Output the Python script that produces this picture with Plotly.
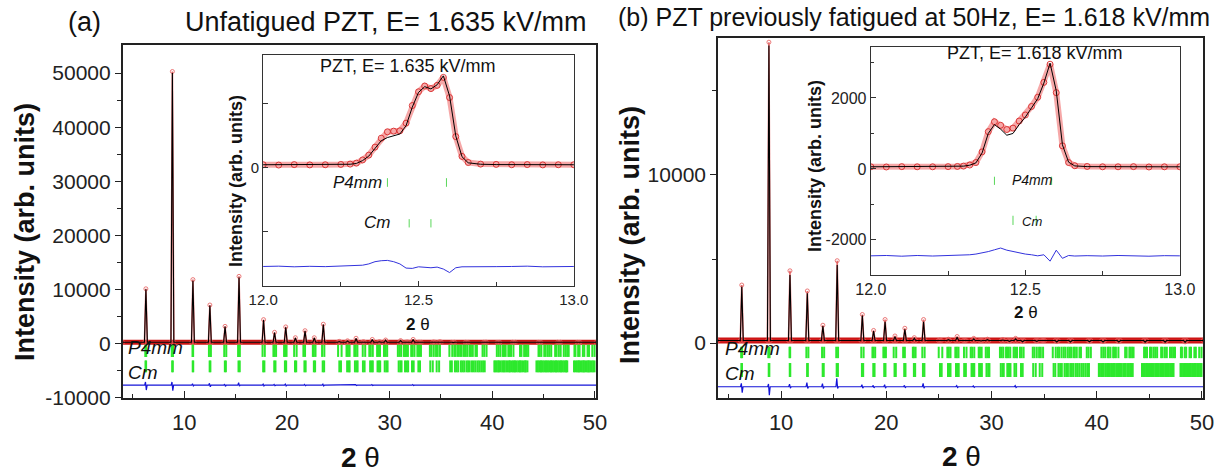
import plotly.graph_objects as go

W, H = 1220, 472
FONT = "Liberation Sans, Arial, Helvetica, sans-serif"

# ---------------- data ----------------
# Main patterns: peak positions (2θ, degrees) and peak-top intensities
PEAK_POS = [6.26, 8.84, 10.84, 12.49, 13.97, 15.33, 17.72, 18.79, 19.88, 20.82, 21.76, 22.66, 23.54,
            25.09, 25.90, 26.73, 27.45, 28.31, 29.00, 29.61, 31.07, 31.70, 32.29, 32.95, 34.30, 34.90,
            36.20, 37.50, 39.30, 40.60, 42.10, 44.60, 46.50, 48.40]
CALC_A = [10000, 50000, 11600, 7000, 3100, 12200, 4300, 2000, 3000, 1000, 2300, 1000, 3500,
          350, 450, 900, 300, 700, 300, 600, 500, 250, 700, 200, 250, 300,
          150, 150, 200, 150, 150, 120, 120, 100]
OBS_A = [10100, 50300, 11800, 7100, 3150, 12400, 4400, 2050, 3050, 1050, 2350, 1050, 3550,
         380, 480, 950, 320, 730, 320, 630, 520, 270, 730, 220, 270, 320,
         170, 170, 220, 170, 170, 140, 140, 120]
CALC_B = [3350, 17700, 4050, 2960, 1010, 4640, 1630, 710, 1270, 380, 810, 280, 1270,
          150, 200, 350, 120, 250, 120, 200, 180, 100, 250, 80, 100, 120,
          60, 60, 80, 60, 60, 50, 50, 40]
OBS_B = [3450, 17900, 4300, 3100, 1060, 4900, 1700, 750, 1400, 420, 880, 320, 1400,
         180, 230, 390, 150, 280, 150, 230, 210, 130, 280, 110, 130, 150,
         90, 90, 110, 90, 90, 80, 80, 70]
BG_A = 200
BG_B = 150

# Difference curves: spike positions, upward and downward excursions, offset
DIFF_POS = [6.26, 8.84, 10.84, 12.49, 13.97, 15.33, 17.72, 18.79, 19.88, 21.76, 23.54, 26.73, 28.31, 32.29]
DIFF_UP_A = [600, 600, 250, 350, 200, 450, 200, 150, 200, 150, 200, 100, 100, 100]
DIFF_DN_A = [900, 1000, 150, 300, 200, 150, 150, 100, 150, 100, 150, 80, 80, 80]
DIFF_OFF_A = -7730
DIFF_UP_B = [200, 160, 150, 250, 180, 500, 120, 80, 120, 80, 200, 60, 50, 60]
DIFF_DN_B = [360, 500, 80, 100, 100, 100, 80, 60, 80, 60, 80, 50, 40, 50]
DIFF_OFF_B = -2600

# Bragg reflection positions (2θ) for the two phases
P4MM_REFL = [6.20, 6.29, 8.78, 8.90, 10.80, 10.86, 12.40, 12.59, 13.89, 14.09, 15.24, 15.41,
             17.62, 17.84, 18.68, 18.78, 18.94, 19.72, 19.82, 19.96, 20.70, 20.94, 21.60, 21.76,
             22.52, 22.62, 22.78, 23.42, 23.64, 24.98, 25.32, 25.80, 25.94, 26.10, 26.56, 26.70, 26.86,
             27.38, 27.62, 28.02, 28.16, 28.36, 28.78, 28.90, 29.06, 29.45, 29.60, 29.76,
             30.80, 30.96, 31.12, 31.38, 31.50, 31.62, 31.78, 32.10, 32.24, 32.42, 32.70, 32.86, 33.05,
             33.92, 34.08, 34.30, 34.52, 34.68, 34.90,
             35.82, 36.10, 36.30, 36.44, 36.66, 36.86, 37.02, 37.24, 37.40, 37.56, 37.78, 37.92, 38.10,
             38.36, 38.50, 39.05, 39.22, 39.44,
             40.44, 40.62, 40.80, 41.04, 41.14, 41.30, 41.56, 41.66, 41.82, 42.06,
             42.70, 42.84, 43.10, 43.20, 43.36, 43.50,
             44.50, 44.62, 44.78, 45.06, 45.20, 45.40, 45.56, 45.74,
             46.12, 46.26, 46.48, 46.66, 46.96, 47.14, 47.30, 47.44,
             48.00, 48.10, 48.36, 48.50, 48.82, 48.96, 49.28, 49.42, 49.74, 49.96]
CM_REFL = [6.22, 6.28, 8.82, 8.88, 10.82, 10.87, 12.47, 12.54, 13.95, 14.05, 15.28, 15.40,
           17.68, 17.80, 18.76, 18.88, 19.80, 19.92, 20.78, 20.90, 21.70, 21.82, 22.62, 22.74,
           23.48, 23.62, 25.10, 25.26, 25.86, 26.02, 26.10, 26.62, 26.78, 26.88, 27.40, 27.56,
           28.10, 28.24, 28.36, 28.82, 28.96, 29.08, 29.52, 29.68, 29.80,
           30.88, 31.04, 31.16, 31.50, 31.66, 31.80, 32.18, 32.34, 32.80, 32.96,
           33.96, 34.20, 34.58, 34.82,
           35.90, 36.06, 36.36, 36.52, 36.68, 36.94, 37.10, 37.26, 37.48, 37.64, 37.80,
           38.02, 38.20, 38.38, 38.58, 38.74, 38.92, 39.10, 39.26,
           40.20, 40.30, 40.44, 40.58, 40.66, 40.82, 40.98, 41.10, 41.20, 41.36, 41.50, 41.64,
           41.72, 41.88, 42.02, 42.16, 42.22, 42.38, 42.54, 42.68, 42.74, 42.90, 43.06, 43.20,
           43.26, 43.42,
           44.30, 44.44, 44.58, 44.72, 44.78, 44.92, 45.06, 45.20, 45.28, 45.42, 45.56, 45.70,
           45.76, 45.90, 46.04, 46.18, 46.24, 46.38, 46.52, 46.66, 46.72, 46.86, 47.00, 47.14,
           47.20, 47.30,
           47.96, 48.10, 48.24, 48.38, 48.44, 48.58, 48.72, 48.86, 48.92, 49.06, 49.20, 49.34,
           49.40, 49.54, 49.68, 49.82, 49.96]

# Insets: zoom on the (200) region
INSET_X = [12.00, 12.05, 12.10, 12.15, 12.20, 12.25, 12.28, 12.30, 12.32, 12.34, 12.36, 12.38, 12.40,
           12.42, 12.44, 12.46, 12.48, 12.50, 12.52, 12.54, 12.56, 12.58, 12.60, 12.62, 12.64, 12.66,
           12.70, 12.75, 12.80, 12.85, 12.90, 12.95, 13.00]
INSET_A_OBS = [100, 90, 105, 95, 100, 110, 120, 150, 250, 400, 650, 930, 1130, 1150, 1160, 1400, 1950,
               2380, 2560, 2480, 2580, 2830, 2200, 980, 360, 170, 120, 110, 100, 105, 95, 100, 100]
INSET_A_CALC = [100, 100, 100, 100, 100, 105, 115, 140, 230, 370, 600, 850, 950, 1000, 1060, 1320, 1900,
                2360, 2540, 2470, 2600, 2880, 2250, 1000, 350, 160, 115, 105, 100, 100, 100, 100, 100]
INSET_A_DIFF = [-3080, -3070, -3090, -3075, -3085, -3075, -3070, -3060, -3040, -3000, -2930, -2900, -2890,
                -2930, -3000, -3130, -3140, -3090, -3100, -3120, -3100, -3160, -3270, -3120, -3090, -3085,
                -3075, -3085, -3080, -3070, -3090, -3080, -3080]
INSET_B_OBS = [60, 55, 65, 60, 60, 65, 70, 80, 110, 180, 480, 1050, 1330, 1230, 1110, 1150, 1350,
               1520, 1760, 2020, 2440, 2950, 2150, 650, 180, 90, 70, 60, 60, 65, 55, 60, 60]
INSET_B_CALC = [60, 60, 60, 60, 60, 62, 68, 78, 105, 170, 450, 1000, 1250, 1120, 950, 1000, 1250,
                1460, 1720, 1980, 2420, 2980, 2200, 680, 190, 85, 65, 60, 60, 60, 60, 60, 60]
INSET_B_DIFF = [-2450, -2440, -2460, -2440, -2455, -2445, -2440, -2430, -2420, -2400, -2370, -2330, -2280,
                -2230, -2290, -2330, -2360, -2400, -2420, -2450, -2420, -2600, -2290, -2520, -2440, -2455,
                -2445, -2455, -2440, -2450, -2460, -2445, -2450]
INSET_A_P4MM = [12.40, 12.59]
INSET_A_CM = [12.47, 12.54]
INSET_B_P4MM = [12.40, 12.585]
INSET_B_CM = [12.46, 12.535]

# axis ticks
Y_TICKS_A = [-10000, 0, 10000, 20000, 30000, 40000, 50000]
Y_MINOR_A = [-5000, 5000, 15000, 25000, 35000, 45000]
Y_TICKS_B = [0, 10000]
Y_MINOR_B = [5000, 15000]
X_TICKS = [10, 20, 30, 40, 50]
X_MINOR = [5, 15, 25, 35, 45]
INSET_X_TICKS = [12.0, 12.5, 13.0]
INSET_X_MINOR = [12.25, 12.75]
INSET_Y_TICKS = [-2000, 0, 2000]
INSET_A_YLABELS = ["", "0", ""]
INSET_B_YLABELS = ["-2000", "0", "2000"]
INSET_B_YMINOR = [-1000, 1000, 3000]

X_MIN, X_MAX = 4.0, 50.1
PEAK_HW = 0.14

RED = "rgb(205,20,20)"
GREEN = "rgb(45,232,45)"
BLUE = "rgb(20,20,215)"


def profile(pos, heights, bg):
    xs, ys = [X_MIN], [bg]
    for p, h in zip(pos, heights):
        xs += [p - PEAK_HW, p, p + PEAK_HW]
        ys += [bg, h, bg]
    xs.append(X_MAX)
    ys.append(bg)
    return xs, ys


def reflections(pos, y0, y1):
    xs, ys = [], []
    for p in pos:
        xs += [p, p, None]
        ys += [y0, y1, None]
    return xs, ys


def diffcurve(pos, up, dn, off):
    xs, ys = [X_MIN], [off]
    for p, u, d in zip(pos, up, dn):
        xs += [p - 0.12, p - 0.04, p + 0.04, p + 0.12]
        ys += [off, off + u, off - d, off]
    xs.append(X_MAX)
    ys.append(off)
    return xs, ys


fig = go.Figure()


def add_main(calc, obs, bg, up, dn, off, p4y, cmy, xa, ya, band_w):
    ox, oy = profile(PEAK_POS, obs, bg)
    cx, cy = profile(PEAK_POS, calc, bg)
    fig.add_trace(go.Scatter(x=[X_MIN, X_MAX], y=[bg, bg], mode="lines",
                             line=dict(color=RED, width=band_w), xaxis=xa, yaxis=ya, showlegend=False))
    fig.add_trace(go.Scatter(x=ox, y=oy, mode="lines+markers",
                             line=dict(color="rgba(220,70,70,0.8)", width=1.6),
                             marker=dict(symbol="circle-open", size=4, color="rgba(230,90,90,0.8)",
                                         line=dict(width=1)),
                             xaxis=xa, yaxis=ya, showlegend=False))
    fig.add_trace(go.Scatter(x=cx, y=cy, mode="lines", line=dict(color="black", width=1.1),
                             xaxis=xa, yaxis=ya, showlegend=False))
    rx, ry = reflections(P4MM_REFL, p4y[0], p4y[1])
    fig.add_trace(go.Scatter(x=rx, y=ry, mode="lines", line=dict(color=GREEN, width=2),
                             xaxis=xa, yaxis=ya, showlegend=False))
    rx, ry = reflections(CM_REFL, cmy[0], cmy[1])
    fig.add_trace(go.Scatter(x=rx, y=ry, mode="lines", line=dict(color=GREEN, width=2),
                             xaxis=xa, yaxis=ya, showlegend=False))
    dx_, dy_ = diffcurve(DIFF_POS, up, dn, off)
    fig.add_trace(go.Scatter(x=dx_, y=dy_, mode="lines", line=dict(color=BLUE, width=1.2),
                             xaxis=xa, yaxis=ya, showlegend=False))


add_main(CALC_A, OBS_A, BG_A, DIFF_UP_A, DIFF_DN_A, DIFF_OFF_A, (-250, -2500), (-3150, -5350), "x", "y", 5)
add_main(CALC_B, OBS_B, BG_B, DIFF_UP_B, DIFF_DN_B, DIFF_OFF_B, (-220, -900), (-1190, -2020), "x2", "y2", 6)


def add_inset(obs, calc, diff, p4, cm, p4y, cmy, xa, ya):
    fig.add_trace(go.Scatter(x=INSET_X, y=obs, mode="lines+markers",
                             line=dict(color="rgba(240,110,110,0.6)", width=6),
                             marker=dict(symbol="circle-open", size=6, color="rgba(215,40,40,0.9)",
                                         line=dict(width=1)),
                             xaxis=xa, yaxis=ya, showlegend=False))
    fig.add_trace(go.Scatter(x=INSET_X, y=calc, mode="lines", line=dict(color="black", width=1),
                             xaxis=xa, yaxis=ya, showlegend=False))
    fig.add_trace(go.Scatter(x=INSET_X, y=diff, mode="lines", line=dict(color="rgb(50,50,220)", width=1),
                             xaxis=xa, yaxis=ya, showlegend=False))
    rx, ry = reflections(p4, p4y[0], p4y[1])
    fig.add_trace(go.Scatter(x=rx, y=ry, mode="lines", line=dict(color="rgb(90,215,90)", width=1),
                             xaxis=xa, yaxis=ya, showlegend=False))
    rx, ry = reflections(cm, cmy[0], cmy[1])
    fig.add_trace(go.Scatter(x=rx, y=ry, mode="lines", line=dict(color="rgb(90,215,90)", width=1),
                             xaxis=xa, yaxis=ya, showlegend=False))


add_inset(INSET_A_OBS, INSET_A_CALC, INSET_A_DIFF, INSET_A_P4MM, INSET_A_CM,
          (-320, -590), (-1600, -1860), "x3", "y3")
add_inset(INSET_B_OBS, INSET_B_CALC, INSET_B_DIFF, INSET_B_P4MM, INSET_B_CM,
          (-220, -450), (-1320, -1580), "x4", "y4")


def px(v):
    return v / W


def py(v):
    return 1 - v / H


AX_COL = "#222222"


def main_x(x0, x1, anchor):
    return dict(domain=[px(x0), px(x1)], range=[X_MIN, X_MAX], anchor=anchor,
                showline=True, mirror=True, linecolor=AX_COL, linewidth=1.6,
                showgrid=False, zeroline=False, ticks="inside", ticklen=7, tickwidth=1.4,
                tickcolor=AX_COL, tickmode="array", tickvals=X_TICKS,
                ticktext=[str(v) for v in X_TICKS],
                minor=dict(tickmode="array", tickvals=X_MINOR, ticks="inside", ticklen=4,
                           tickwidth=1.2, tickcolor=AX_COL),
                tickfont=dict(family=FONT, size=22, color="#222"), ticklabelstandoff=4)


def main_y(y0, y1, rng, tv, mv, anchor):
    return dict(domain=[py(y1), py(y0)], range=rng, anchor=anchor,
                showline=True, mirror=True, linecolor=AX_COL, linewidth=1.6,
                showgrid=False, zeroline=False, ticks="outside", ticklen=6, tickwidth=1.4,
                tickcolor=AX_COL, tickmode="array", tickvals=tv, ticktext=[str(v) for v in tv],
                minor=dict(tickmode="array", tickvals=mv, ticks="outside", ticklen=4,
                           tickwidth=1.2, tickcolor=AX_COL),
                tickfont=dict(family=FONT, size=21, color="#222"))


def inset_x(x0, x1, anchor, fs):
    return dict(domain=[px(x0), px(x1)], range=[11.9995, 13.0005], anchor=anchor,
                showline=True, mirror=True, linecolor="#333", linewidth=1,
                showgrid=False, zeroline=False, ticks="inside", ticklen=5, tickwidth=1,
                tickcolor="#333", tickmode="array", tickvals=INSET_X_TICKS,
                ticktext=["%.1f" % v for v in INSET_X_TICKS],
                minor=dict(tickmode="array", tickvals=INSET_X_MINOR, ticks="inside", ticklen=4,
                           tickwidth=1, tickcolor="#333"),
                tickfont=dict(family=FONT, size=fs, color="#222"))


def inset_y(y0, y1, rng, labels, minor, anchor, fs):
    d = dict(domain=[py(y1), py(y0)], range=rng, anchor=anchor,
             showline=True, mirror=True, linecolor="#333", linewidth=1,
             showgrid=False, zeroline=False, ticks="inside", ticklen=5, tickwidth=1,
             tickcolor="#333", tickmode="array", tickvals=INSET_Y_TICKS, ticktext=labels,
             tickfont=dict(family=FONT, size=fs, color="#222"))
    if minor:
        d["minor"] = dict(tickmode="array", tickvals=minor, ticks="inside", ticklen=3,
                          tickwidth=1, tickcolor="#333")
    return d


fig.update_layout(
    width=W, height=H, margin=dict(l=0, r=0, t=0, b=0, autoexpand=False),
    paper_bgcolor="white", plot_bgcolor="white", showlegend=False,
    font=dict(family=FONT, color="#111"),
    xaxis=main_x(122.7, 596, "y"),
    yaxis=main_y(45, 398, [-10100, 55200], Y_TICKS_A, Y_MINOR_A, "x"),
    xaxis2=main_x(718, 1203, "y2"),
    yaxis2=main_y(38, 398, [-3270, 18150], Y_TICKS_B, Y_MINOR_B, "x2"),
    xaxis3=inset_x(263, 574, "y3", 15),
    yaxis3=inset_y(55, 286, [-3690, 3530], INSET_A_YLABELS, None, "x3", 15),
    xaxis4=inset_x(870.7, 1180, "y4", 16),
    yaxis4=inset_y(46.7, 275, [-2990, 3445], INSET_B_YLABELS, INSET_B_YMINOR, "x4", 16),
)


def ann(text, x, y, size, angle=0, xanchor="center", color="#111", align="center"):
    fig.add_annotation(text=text, x=px(x), y=py(y), xref="paper", yref="paper",
                       xanchor=xanchor, yanchor="middle", showarrow=False, textangle=angle,
                       align=align, borderpad=0,
                       font=dict(family=FONT, size=size, color=color))


ann("(a)", 84, 22, 27)
ann("Unfatigued PZT, E= 1.635 kV/mm", 385, 22, 27)
ann("(b) PZT previously fatigued at 50Hz, E= 1.618 kV/mm", 913.5, 17, 25)
ann("<b>Intensity (arb. units)</b>", 25, 232, 27, -90)
ann("<b>Intensity (arb. units)</b>", 630, 235, 27, -90)
ann("<b>2</b> θ", 360, 457, 28)
ann("<b>2</b> θ", 961, 456, 28)
# phase labels (one text block per panel)
ann("<i>P4mm</i><br><i>Cm</i>", 127, 360, 19, xanchor="left", align="left")
ann("<i>P4mm</i><br><i>Cm</i>", 724, 361, 19, xanchor="left", align="left")
# inset annotations
ann("PZT, E= 1.635 kV/mm", 408, 66, 18)
ann("PZT, E= 1.618 kV/mm", 1035, 53, 18)
ann("<b>Intensity (arb. units)</b>", 236, 181, 18, -90)
ann("<b>Intensity (arb. units)</b>", 815, 166, 18, -90)
ann("<b>2</b> θ", 418, 324, 17)
ann("<b>2</b> θ", 1026, 312, 17)
ann("<i>P4mm</i>", 357, 183, 17)
ann("<i>Cm</i>", 377, 223, 17)
ann("<i>P4mm</i>", 1032, 180, 14)
ann("<i>Cm</i>", 1032, 221, 13)

fig.write_html("out.html", config={"displayModeBar": False},
               post_script="document.body.style.margin='0px';")
